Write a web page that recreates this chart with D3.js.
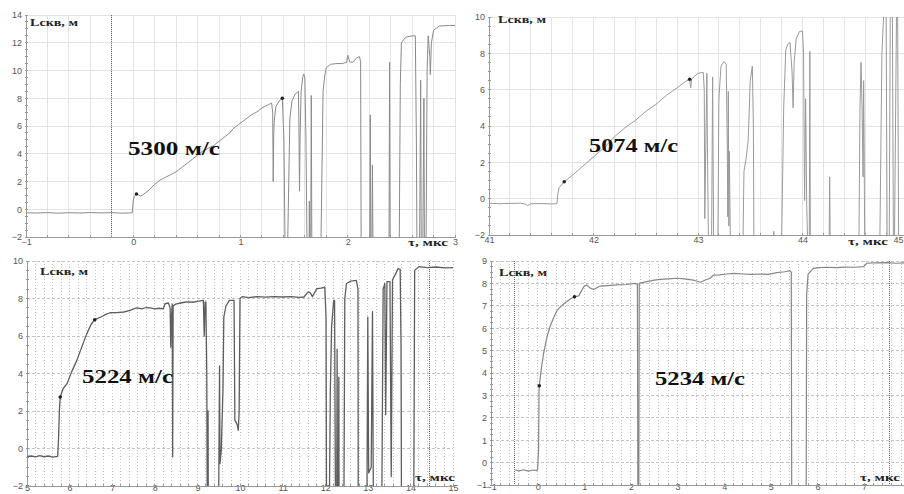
<!DOCTYPE html>
<html><head><meta charset="utf-8">
<script src="https://cdn.jsdelivr.net/npm/d3@7"></script>
<style>body{margin:0;background:#fff}svg{display:block}</style>
</head><body>
<svg id="c" width="904" height="494"></svg>
<script>
// ---------- DATA ----------
const speedLabels = ["5300 м/с", "5074 м/с", "5224 м/с", "5234 м/с"];
const yAxisLabel = "Lскв, м";
const xAxisLabel = "τ, мкс";

const xTicks1 = [-1, 0, 1, 2, 3];
const yTicks1 = [-2, 0, 2, 4, 6, 8, 10, 12, 14];
const xTicks2 = [41, 42, 43, 44, 45];
const yTicks2 = [-2, 0, 2, 4, 6, 8, 10];
const xTicks3 = [5, 6, 7, 8, 9, 10, 11, 12, 13, 14, 15];
const yTicks3 = [-2, 0, 2, 4, 6, 8, 10];
const xTicks4 = [-1, 0, 1, 2, 3, 4, 5, 6, 7];
const yTicks4 = [-1, 0, 1, 2, 3, 4, 5, 6, 7, 8, 9];

// fit points (start/end of velocity segment)
const fit1 = [[0.03, 1.1], [1.39, 8.0]];
const fit2 = [[41.72, 0.93], [42.92, 6.57]];
const fit3 = [[5.78, 2.75], [6.59, 6.87]];
const fit4 = [[0.036, 3.43], [0.79, 7.4]];

// marker lines (dark dotted verticals)
const marks1 = [-0.2];
const marks2 = [];
const marks3 = [14.45];
const marks4 = [-0.5, 7.55];

const trace1 = [[-1,-0.25],[-0.9,-0.27],[-0.8,-0.24],[-0.7,-0.28],[-0.6,-0.25],[-0.5,-0.27],[-0.4,-0.24],[-0.3,-0.26],[-0.2,-0.25],[-0.1,-0.28],[-0.01,-0.26],
[0.0,0.6],[0.01,0.95],[0.03,1.1],[0.07,0.95],[0.1,1.1],[0.15,1.4],[0.2,1.8],[0.25,2.1],[0.3,2.3],[0.35,2.5],[0.4,2.7],[0.45,3.0],[0.5,3.3],[0.55,3.6],[0.6,3.9],[0.65,4.2],[0.7,4.4],[0.75,4.6],[0.8,4.9],[0.85,5.2],[0.9,5.5],[0.93,5.8],[0.98,6.1],[1.05,6.5],[1.1,6.8],[1.15,7.0],[1.2,7.3],[1.25,7.5],[1.29,7.65],
[1.30,7.0],[1.305,2.0],[1.31,5.5],[1.315,6.4],[1.33,7.4],[1.36,7.8],[1.39,8.0],
[1.405,5.0],[1.415,-2.5],[1.44,-2.5],[1.45,2],[1.46,6.5],[1.48,7.8],[1.51,8.3],[1.54,8.5],[1.545,6],[1.55,1.3],[1.555,5],[1.565,8.5],[1.58,9.5],[1.59,9.75],[1.6,9.5],[1.61,5],[1.62,-2.5],[1.64,-2.5],[1.642,0.6],[1.645,-2.5],[1.655,-2.5],[1.66,8.2],[1.665,-2.5],[1.75,-2.5],[1.76,3],[1.77,8.5],[1.785,9.6],[1.8,10.2],[1.84,10.45],[1.9,10.5],[1.95,10.5],[1.99,10.6],[2.0,11.1],[2.02,10.6],[2.05,10.6],[2.08,10.9],[2.11,11.0],[2.12,10.6],[2.125,-2.5],
[2.205,-2.5],[2.21,6.8],[2.215,-2.5],[2.225,-2.5],[2.23,3.2],[2.235,-2.5],[2.385,-2.5],[2.39,10.6],[2.395,-2.5],[2.48,-2.5],[2.49,9],[2.5,12.0],[2.54,12.4],[2.6,12.5],[2.63,12.5],[2.64,5],[2.645,-2.5],[2.67,-2.5],[2.68,9.3],[2.685,-2.5],[2.7,-2.5],[2.71,8.0],[2.715,-2.5],[2.73,-2.5],[2.74,10],[2.75,12.5],[2.765,11],[2.77,9.7],[2.78,12],[2.8,12.9],[2.85,13.2],[2.95,13.25],[3.0,13.25]];

const trace2 = [[41,-0.25],[41.1,-0.28],[41.2,-0.26],[41.3,-0.25],[41.35,-0.3],[41.37,-0.38],[41.4,-0.28],[41.5,-0.27],[41.6,-0.29],[41.65,-0.28],[41.66,0.3],[41.67,0.6],[41.7,0.8],[41.72,0.93],[41.8,1.3],[41.9,1.8],[42.0,2.3],[42.1,2.8],[42.2,3.4],[42.3,3.9],[42.4,4.3],[42.5,4.8],[42.6,5.2],[42.7,5.7],[42.8,6.1],[42.88,6.45],[42.92,6.57],[42.93,6.1],[42.94,6.6],[42.97,6.75],[43.0,6.9],[43.05,6.95],[43.06,6.0],[43.065,-1.1],[43.075,3],[43.085,6.9],[43.09,3],[43.1,-2.5],[43.13,-2.5],[43.14,6.7],[43.15,-2.5],[43.19,-2.5],[43.2,5.5],[43.22,7.3],[43.25,7.55],[43.27,7.4],[43.28,3],[43.285,-1.0],[43.29,5.9],[43.295,-1.5],[43.3,2.6],[43.31,-2.5],
[43.43,-2.5],[43.44,1.5],[43.46,2.2],[43.48,3.2],[43.5,6.5],[43.52,7.3],[43.53,4],[43.535,-2.5],[43.72,-2.5],[43.725,-1.8],[43.73,-2.5],[43.8,-2.5],[43.82,5],[43.84,8.2],[43.86,8.5],[43.88,8.6],[43.9,7.0],[43.91,5.0],[43.92,7.5],[43.94,8.8],[43.97,9.2],[44.0,9.23],[44.01,8],[44.02,-0.1],[44.03,5.5],[44.04,-0.3],[44.05,-2.5],[44.065,-2.5],[44.07,8.1],[44.075,-2.5],[44.255,-2.5],[44.26,1.2],[44.265,-2.5],[44.54,-2.5],[44.55,5],[44.56,7.5],[44.57,5],[44.58,1.2],[44.585,6.5],[44.59,3],[44.595,-2.5],[44.74,-2.5],[44.76,8],[44.78,10.5],[44.8,10.5],[44.81,-2.5],[44.83,-2.5],[44.84,10.5],[44.86,10.5],[44.87,-2.5],[44.88,-2.5],[44.9,10.5],[44.91,10.5],[44.92,-2.5],[44.97,-2.5]];

const trace3 = [[5,-0.42],[5.1,-0.4],[5.2,-0.45],[5.3,-0.38],[5.4,-0.44],[5.5,-0.4],[5.6,-0.46],[5.72,-0.42],[5.74,0.5],[5.76,2.0],[5.78,2.75],[5.85,3.2],[5.94,3.46],[6.05,4.1],[6.17,4.7],[6.3,5.5],[6.4,6.1],[6.5,6.6],[6.59,6.87],[6.72,7.0],[6.85,7.15],[6.95,7.24],[7.1,7.25],[7.27,7.28],[7.42,7.37],[7.5,7.45],[7.58,7.5],[7.7,7.45],[7.8,7.52],[7.89,7.5],[8.0,7.45],[8.1,7.48],[8.2,7.45],[8.24,7.72],[8.32,7.76],[8.36,7.5],[8.375,5.4],[8.39,7.0],[8.41,7.7],[8.42,-0.45],[8.43,7.6],[8.49,7.7],[8.6,7.76],[8.7,7.8],[8.8,7.82],[8.9,7.8],[9.0,7.85],[9.14,7.9],[9.16,6.0],[9.18,7.8],[9.2,7.8],[9.22,4],[9.23,-2.5],[9.245,-2.5],[9.25,2],[9.255,-2.5],[9.5,-2.5],[9.52,4.4],[9.53,-0.8],[9.56,-0.1],[9.6,3.1],[9.62,7.0],[9.67,7.6],[9.75,7.9],[9.86,7.9],[9.88,1.5],[9.93,1.3],[9.96,0.97],[9.98,2],[10.0,8.0],[10.05,8.1],[10.2,8.05],[10.4,8.1],[10.6,8.07],[10.8,8.1],[11.0,8.08],[11.2,8.1],[11.4,8.06],[11.5,8.08],[11.6,8.35],[11.65,8.3],[11.7,8.1],[11.8,8.52],[11.9,8.55],[11.99,8.6],[12.02,7],[12.03,-2.5],[12.1,-2.5],[12.12,3],[12.15,6.5],[12.2,7.9],[12.22,7.9],[12.24,-2.5],[12.27,-2.5],[12.28,5.3],[12.285,-2.5],[12.31,-2.5],[12.32,3.8],[12.325,-2.5],[12.44,-2.5],[12.46,8.0],[12.5,8.8],[12.6,8.93],[12.73,8.97],[12.77,8.5],[12.775,-2.5],[12.98,-2.5],[13.0,7.0],[13.02,-1.3],[13.08,-1.0],[13.11,7.3],[13.13,-2.5],[13.33,-2.5],[13.36,8.5],[13.4,8.8],[13.42,1.8],[13.45,8.9],[13.52,8.9],[13.55,-1.5],[13.58,9.0],[13.65,9.3],[13.71,9.6],[13.76,9.55],[13.78,5.5],[13.79,-2.5],[14.08,-2.5],[14.1,9.5],[14.2,9.7],[14.4,9.65],[14.6,9.68],[14.8,9.63],[15,9.65]];

const trace4 = [[-0.48,-0.33],[-0.4,-0.37],[-0.3,-0.32],[-0.2,-0.38],[-0.1,-0.33],[-0.02,-0.36],[0.0,-0.3],[0.02,0.56],[0.03,3.2],[0.036,3.43],[0.08,4.2],[0.13,4.9],[0.2,5.6],[0.27,6.1],[0.35,6.5],[0.42,6.8],[0.49,6.96],[0.6,7.15],[0.7,7.3],[0.79,7.4],[0.88,7.44],[0.92,7.6],[0.99,7.85],[1.05,7.93],[1.12,7.8],[1.2,7.73],[1.34,7.88],[1.5,7.9],[1.7,7.93],[1.9,7.95],[2.09,8.0],[2.14,7.95],[2.15,-1.5],[2.17,-1.5],[2.18,8.0],[2.34,8.08],[2.5,8.15],[2.63,8.18],[2.8,8.2],[2.99,8.23],[3.15,8.2],[3.34,8.15],[3.49,8.05],[3.6,8.15],[3.7,8.23],[3.77,8.37],[3.9,8.38],[4.06,8.42],[4.2,8.45],[4.41,8.42],[4.6,8.4],[4.77,8.42],[4.95,8.4],[5.13,8.48],[5.3,8.52],[5.41,8.57],[5.44,8.5],[5.45,-1.5],[5.76,-1.5],[5.77,7.5],[5.8,8.4],[5.91,8.67],[6.05,8.7],[6.2,8.72],[6.4,8.7],[6.6,8.73],[6.8,8.72],[6.99,8.75],[7.06,8.9],[7.2,8.92],[7.49,8.93],[7.7,8.9],[7.9,8.92]];

// ---------- DRAW ----------
const svg = d3.select("#c");
const serif = "'Liberation Serif','DejaVu Serif',serif";
const sans = "'Liberation Sans',Arial,sans-serif";

function panel(o) {
  const x = d3.scaleLinear().domain(o.xd).range(o.xr);
  const y = d3.scaleLinear().domain(o.yd).range(o.yr);
  const g = svg.append("g");
  const x0 = o.xr[0], xEnd = o.xmax, yTop = o.yr[1], yBot = o.yr[0];
  const id = "clip" + o.n;
  svg.append("clipPath").attr("id", id).append("rect")
    .attr("x", x0).attr("y", yTop).attr("width", xEnd - x0).attr("height", yBot - yTop);

  const vg = d3.range(Math.round(o.xd[0] * 5), Math.round(x.invert(xEnd) * 5) + 1).map(k => k / 5);
  g.append("g").selectAll("line").data(vg).join("line")
    .attr("x1", d => x(d)).attr("x2", d => x(d)).attr("y1", yTop).attr("y2", yBot)
    .attr("stroke", o.dense ? "#c4c4c4" : "#e3e3e3").attr("stroke-width", 1)
    .attr("stroke-dasharray", o.dense ? "1,2" : null)
    .attr("shape-rendering", "crispEdges");
  g.append("g").selectAll("line").data(o.yt).join("line")
    .attr("x1", x0).attr("x2", xEnd).attr("y1", d => y(d)).attr("y2", d => y(d))
    .attr("stroke", o.dense ? "#c4c4c4" : "#e3e3e3")
    .attr("stroke-dasharray", o.dense ? "3,2" : null)
    .attr("shape-rendering", "crispEdges");
  g.append("g").selectAll("line").data(o.marks).join("line")
    .attr("x1", d => x(d)).attr("x2", d => x(d)).attr("y1", yTop).attr("y2", yBot)
    .attr("stroke", "#666").attr("stroke-dasharray", "1,1").attr("shape-rendering", "crispEdges");

  const ax = d3.axisBottom(x).tickValues(o.xt).tickSize(0).tickPadding(o.xpad).tickFormat(d3.format("d"));
  const ay = d3.axisLeft(y).tickValues(o.yt).tickSize(0).tickPadding(4).tickFormat(d3.format("d"));
  const gx = g.append("g").attr("transform", `translate(0,${yBot})`).call(ax);
  const gy = g.append("g").attr("transform", `translate(${x0},0)`).call(ay);
  [gx, gy].forEach(a => {
    a.select(".domain").remove();
    a.selectAll("text").attr("fill", "#555").attr("font-family", sans).attr("font-size", 9);
  });
  gx.selectAll("text").attr("dy", "0.5em");
  // keep a label that would run past the right edge inside the picture
  gx.selectAll(".tick").filter(d => x(d) > 897).select("text").attr("text-anchor", "end").attr("x", 903 - x(o.xt[o.xt.length - 1]));

  g.append("line").attr("x1", x0).attr("x2", xEnd).attr("y1", yBot).attr("y2", yBot)
    .attr("stroke", "#999").attr("shape-rendering", "crispEdges");
  g.append("line").attr("x1", x0).attr("x2", x0).attr("y1", yTop).attr("y2", yBot)
    .attr("stroke", "#999").attr("shape-rendering", "crispEdges");
  g.append("g").selectAll("line").data(vg).join("line")
    .attr("x1", d => x(d)).attr("x2", d => x(d)).attr("y1", yBot - 2).attr("y2", yBot + 1)
    .attr("stroke", "#999").attr("shape-rendering", "crispEdges");
  const ym = d3.range(Math.round(o.yd[0] / o.ystep), Math.round(o.yd[1] / o.ystep) + 1).map(k => k * o.ystep);
  g.append("g").selectAll("line").data(ym).join("line")
    .attr("x1", x0 - 1).attr("x2", x0 + 2).attr("y1", d => y(d)).attr("y2", d => y(d))
    .attr("stroke", "#999").attr("shape-rendering", "crispEdges");

  g.append("path").datum(o.data).attr("clip-path", `url(#${id})`)
    .attr("d", d3.line().x(d => x(d[0])).y(d => y(d[1])))
    .attr("fill", "none").attr("stroke", o.color).attr("stroke-width", o.sw)
    .attr("stroke-linejoin", "round");
  g.append("g").selectAll("circle").data(o.fit).join("circle")
    .attr("cx", d => x(d[0])).attr("cy", d => y(d[1])).attr("r", 1.8).attr("fill", "#222");

  g.append("text").attr("x", o.yl[0]).attr("y", o.yl[1]).text(yAxisLabel)
    .attr("font-family", serif).attr("font-weight", "bold").attr("font-size", 10.5)
    .attr("fill", "#222").attr("textLength", 48).attr("lengthAdjust", "spacingAndGlyphs");
  g.append("text").attr("x", o.xl[0]).attr("y", o.xl[1]).text(xAxisLabel)
    .attr("font-family", serif).attr("font-weight", "bold").attr("font-size", 10.5)
    .attr("fill", "#222").attr("textLength", 40).attr("lengthAdjust", "spacingAndGlyphs");
  g.append("text").attr("x", o.sl[0]).attr("y", o.sl[1]).text(o.label)
    .attr("font-family", serif).attr("font-weight", "bold").attr("font-size", 19)
    .attr("fill", "#111").attr("textLength", o.sl[2]).attr("lengthAdjust", "spacingAndGlyphs");
}

panel({n:1, xd:[-1,3], xr:[26,455], xmax:455, yd:[-2,14], yr:[237,15], xt:xTicks1, yt:yTicks1, ystep:0.5, xpad:3,
  data:trace1, fit:fit1, marks:marks1, color:"#8a8a8a", sw:1, dense:false,
  label:speedLabels[0], sl:[128,155,92], yl:[30,26], xl:[408,246]});
panel({n:2, xd:[41,45], xr:[489,907], xmax:904, yd:[-2,10], yr:[235,17], xt:xTicks2, yt:yTicks2, ystep:0.5, xpad:3,
  data:trace2, fit:fit2, marks:marks2, color:"#9a9a9a", sw:1, dense:false,
  label:speedLabels[1], sl:[589,152,89], yl:[498,23], xl:[848,245]});
panel({n:3, xd:[5,15], xr:[27,453], xmax:453, yd:[-2,10], yr:[486,261], xt:xTicks3, yt:yTicks3, ystep:0.5, xpad:0,
  data:trace3, fit:fit3, marks:marks3, color:"#5e5e5e", sw:1.3, dense:true,
  label:speedLabels[2], sl:[82,383,91], yl:[40,275], xl:[415,481]});
panel({n:4, xd:[-1,7], xr:[491,864], xmax:904, yd:[-1,9], yr:[485,261], xt:xTicks4, yt:yTicks4, ystep:0.25, xpad:0,
  data:trace4, fit:fit4, marks:marks4, color:"#868686", sw:1.2, dense:true,
  label:speedLabels[3], sl:[655,385,90], yl:[499,276], xl:[860,481]});
</script>
</body></html>
